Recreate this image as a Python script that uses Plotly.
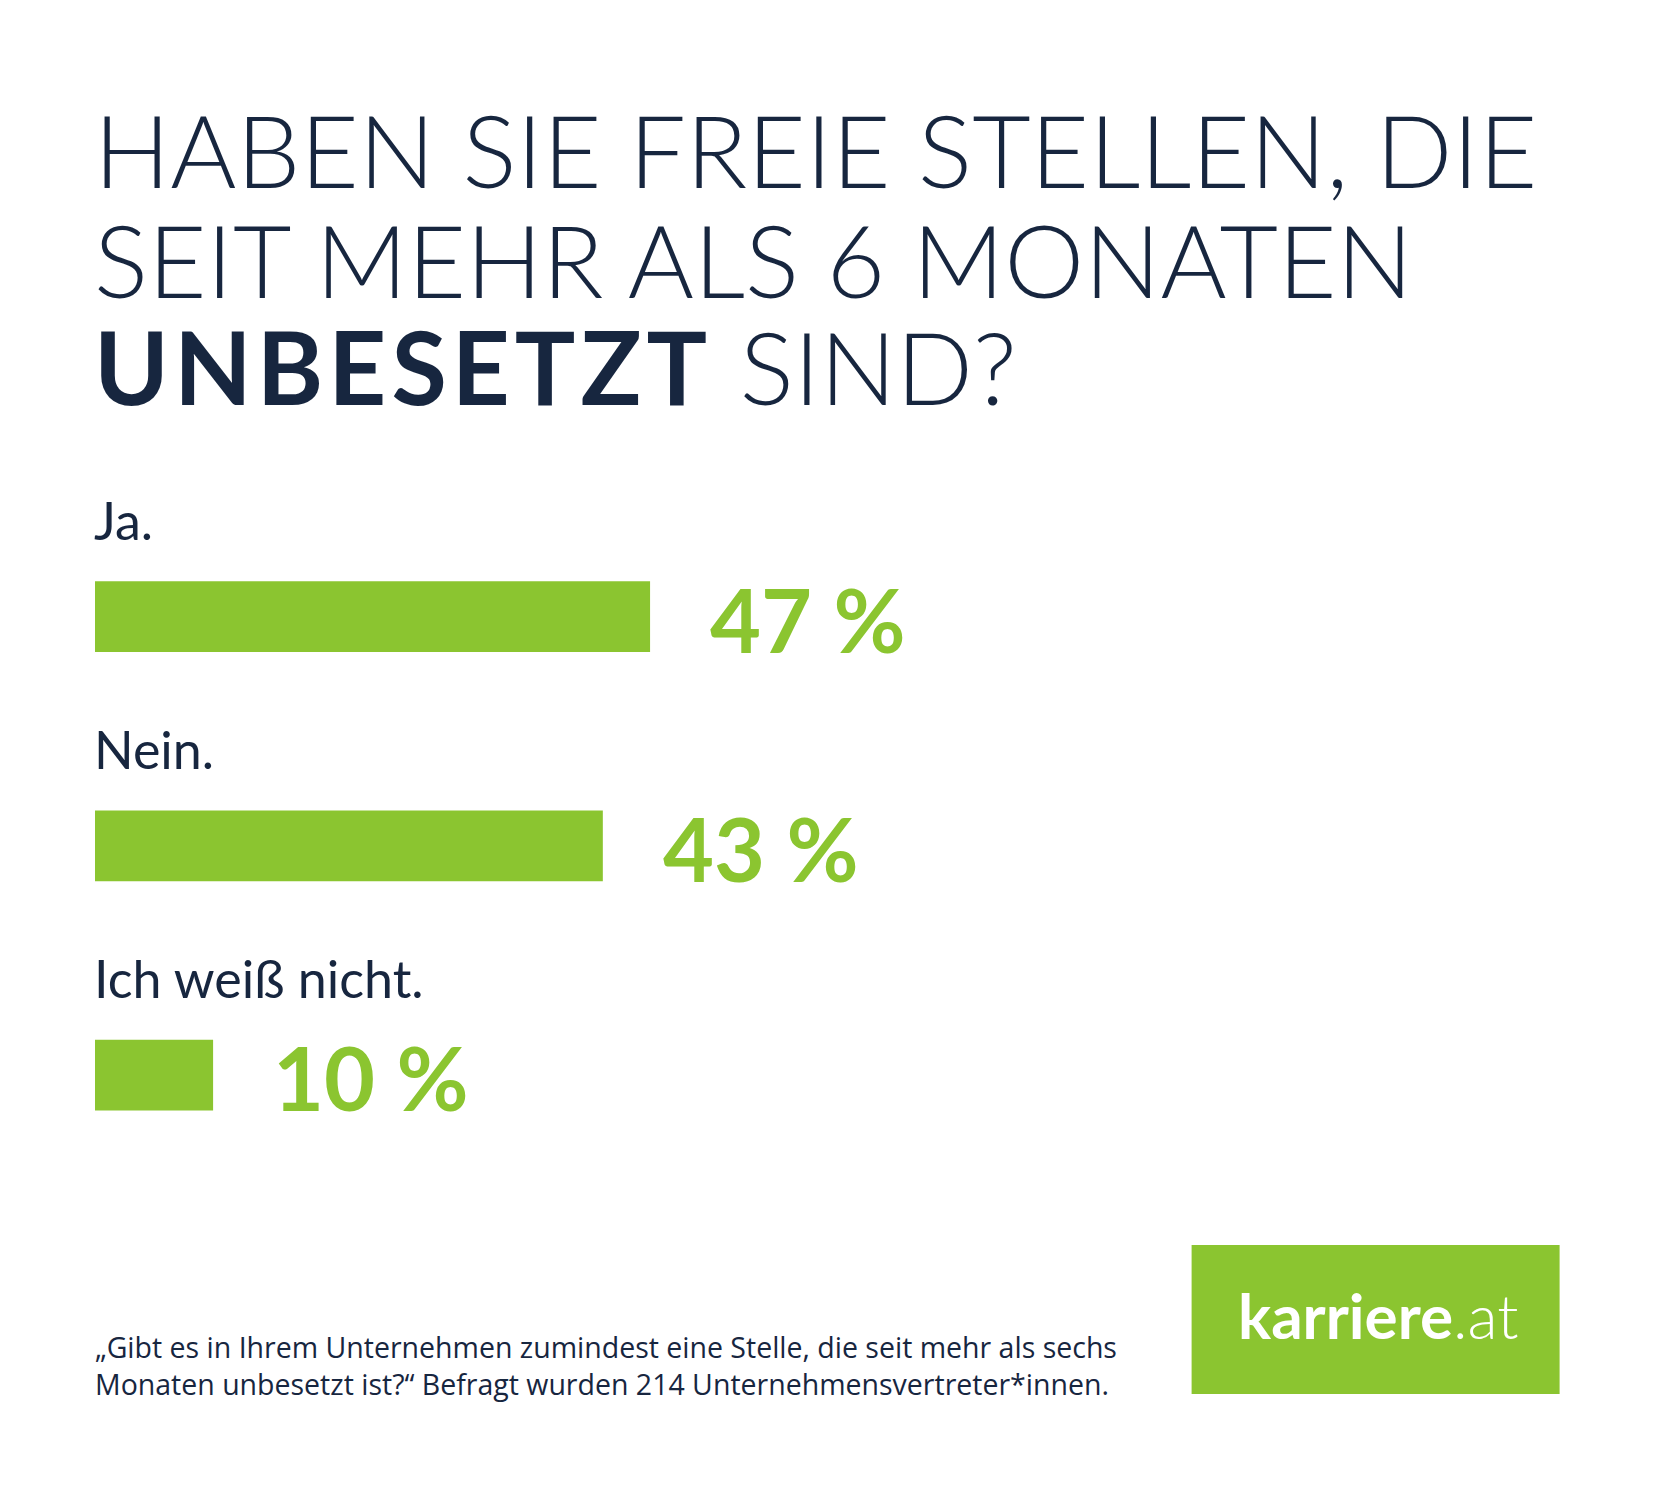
import plotly.graph_objects as go

categories = ["Ja.", "Nein.", "Ich weiß nicht."]
values = [47, 43, 10]
value_labels = ["47 %", "43 %", "10 %"]
title_lines = ["HABEN SIE FREIE STELLEN, DIE", "SEIT MEHR ALS 6 MONATEN",
               "<b><span style=\"letter-spacing:5px\">UNBESETZT</span></b> SIND?"]
footnote = ("„Gibt es in Ihrem Unternehmen zumindest eine Stelle, die seit mehr als sechs<br>"
            "Monaten unbesetzt ist?“ Befragt wurden 214 Unternehmensvertreter*innen.")
logo_bold = "karriere"
logo_light = ".at"

W, H = 1654, 1488
NAVY = "#17263f"
GREEN = "#8bc530"
px_per_unit = 11.81
left_px = 87

fig = go.Figure()
fig.add_trace(go.Bar(
    y=categories, x=values, orientation="h",
    marker=dict(color=GREEN, line=dict(width=0)),
    width=0.308, hoverinfo="skip",
))

y0_px, step_px = 608.6, 229.25
yr_top = -y0_px / step_px
yr_bot = (H - y0_px) / step_px

fig.update_layout(
    width=W, height=H,
    margin=dict(l=left_px, r=0, t=0, b=0),
    paper_bgcolor="white", plot_bgcolor="white",
    showlegend=False,
    xaxis=dict(range=[0, (W - left_px) / px_per_unit], visible=False, fixedrange=True),
    yaxis=dict(categoryorder="array", categoryarray=categories,
               range=[yr_bot, yr_top], visible=False, fixedrange=True),
    font=dict(family="Lato", color=NAVY),
)


def px_x(p):
    return (p - left_px) / (W - left_px)


def px_y(p):
    return 1 - p / H


anns = []
for c, v, lab in zip(categories, values, value_labels):
    anns.append(dict(x=0, y=c, xref="x", yref="y", text=c, showarrow=False,
                     xanchor="left", yanchor="middle", yshift=97, xshift=-3,
                     font=dict(family="Lato", size=52, color=NAVY, weight=400)))
    anns.append(dict(x=v, y=c, xref="x", yref="y", text=lab, showarrow=False,
                     xanchor="left", yanchor="middle", yshift=-2, xshift=58,
                     font=dict(family="Lato", size=88, color=GREEN, weight=700)))

title_centers = [141, 251, 358]
for t, yc in zip(title_lines, title_centers):
    anns.append(dict(x=0, y=px_y(yc), xref="paper", yref="paper", text=t, showarrow=False,
                     xanchor="left", yanchor="middle", xshift=-3,
                     font=dict(family="Lato", size=101, color=NAVY, weight=300)))

anns.append(dict(x=0, y=px_y(1357), xref="paper", yref="paper", text=footnote, showarrow=False,
                 xanchor="left", yanchor="middle", align="left", xshift=-2,
                 font=dict(family="Open Sans", size=28.5, color=NAVY, weight=400)))

# logo box
fig.add_shape(type="rect", xref="paper", yref="paper",
              x0=px_x(1183.6), x1=px_x(1551.6),
              y0=px_y(1386), y1=px_y(1237),
              fillcolor=GREEN, line=dict(width=0), layer="below")
anns.append(dict(x=px_x(1370), y=px_y(1307), xref="paper", yref="paper",
                 text=f"<b>{logo_bold}</b>{logo_light}", showarrow=False,
                 xanchor="center", yanchor="middle",
                 font=dict(family="Lato", size=62, color="white", weight=300)))

fig.update_layout(annotations=anns)
fig.write_html("out.html")
